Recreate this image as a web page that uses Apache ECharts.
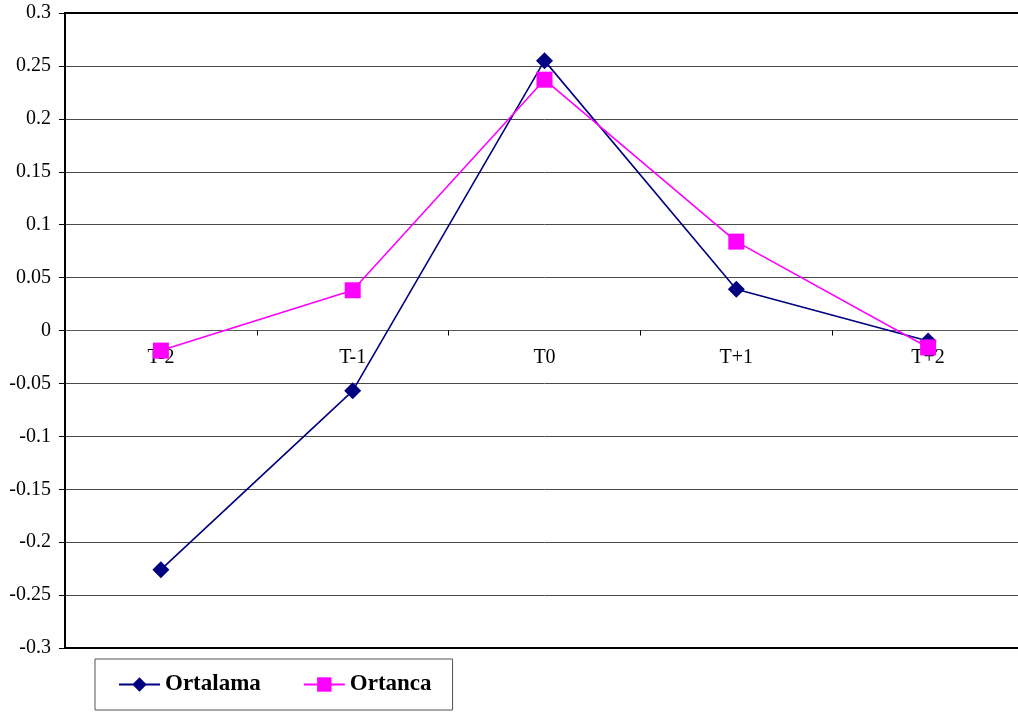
<!DOCTYPE html>
<html>
<head>
<meta charset="utf-8">
<script src="https://cdn.jsdelivr.net/npm/echarts@6/dist/echarts.min.js"></script>
<style>
html,body{margin:0;padding:0;background:#fff;overflow:hidden;width:1018px;height:713px;}
#chart{width:1024px;height:713px;}
</style>
</head>
<body>
<div id="chart"></div>
<script>
const categories = ['T-2', 'T-1', 'T0', 'T+1', 'T+2'];
const ortalama = [-0.226, -0.057, 0.255, 0.039, -0.010];
const ortanca = [-0.019, 0.038, 0.237, 0.084, -0.016];
const seriesNames = ['Ortalama', 'Ortanca'];
const yMin = -0.3, yMax = 0.3, yStep = 0.05;

const FONT = 'Liberation Serif';
const GRID_TOP = 13, GRID_BOTTOM = 65, H = 713;
const gridH = H - GRID_TOP - GRID_BOTTOM;
const zeroOffset = -((0 - yMin) / (yMax - yMin)) * gridH;

const gridColors = [];
for (let i = 0; i <= 12; i++) gridColors.push(i === 0 || i === 12 ? '#000' : '#4a4a4a');

const chart = echarts.init(document.getElementById('chart'), null, {renderer: 'canvas'});
chart.setOption({
  animation: false,
  backgroundColor: '#fff',
  grid: {
    left: 65, top: GRID_TOP, right: 0, bottom: GRID_BOTTOM,
    show: true, borderColor: '#000', borderWidth: 2, backgroundColor: 'transparent'
  },
  legend: {
    data: seriesNames,
    left: 95, top: 659,
    orient: 'horizontal',
    padding: [14, 21, 14, 23],
    itemGap: 42,
    itemWidth: 41,
    itemHeight: 18,
    borderColor: '#555',
    borderWidth: 1,
    textStyle: {fontFamily: FONT, fontSize: 23, fontWeight: 'bold', color: '#000'}
  },
  xAxis: {
    type: 'category',
    data: categories,
    boundaryGap: true,
    position: 'bottom',
    offset: zeroOffset,
    axisLine: {onZero: false, lineStyle: {color: '#5a5a5a', width: 1}},
    axisTick: {show: true, length: 5, lineStyle: {color: '#000', width: 1}},
    axisLabel: {fontFamily: FONT, fontSize: 20, color: '#000', margin: 17},
    splitLine: {show: false}
  },
  yAxis: {
    type: 'value',
    min: yMin, max: yMax, interval: yStep,
    axisLine: {show: true, lineStyle: {color: '#000', width: 2}},
    axisTick: {show: true, length: 6, lineStyle: {color: '#000', width: 1}},
    axisLabel: {
      fontFamily: FONT, fontSize: 20, color: '#000', margin: 14,
      formatter: v => String(parseFloat(v.toFixed(2)))
    },
    splitLine: {show: true, lineStyle: {color: gridColors, width: 1}}
  },
  series: [
    {
      name: seriesNames[0], type: 'line', data: ortalama,
      symbol: 'diamond', symbolSize: 17,
      lineStyle: {color: '#000080', width: 1.6},
      itemStyle: {color: '#000080'}
    },
    {
      name: seriesNames[1], type: 'line', data: ortanca,
      symbol: 'rect', symbolSize: 16,
      lineStyle: {color: '#FF00FF', width: 1.6},
      itemStyle: {color: '#FF00FF'}
    }
  ]
});
</script>
</body>
</html>
